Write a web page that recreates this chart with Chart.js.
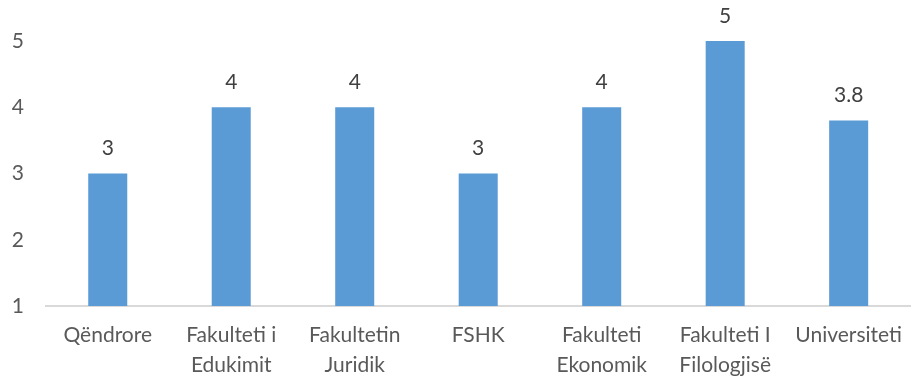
<!DOCTYPE html>
<html>
<head>
<meta charset="utf-8">
<script src="https://cdn.jsdelivr.net/npm/chart.js@4"></script>
<style>
  html, body { margin: 0; padding: 0; background: #fff; }
  #wrap { width: 916px; height: 378px; }
</style>
</head>
<body>
<div id="wrap"><canvas id="barChart"></canvas></div>
<script>
const categories = [
    'Qëndrore',
    ['Fakulteti i', 'Edukimit'],
    ['Fakultetin', 'Juridik'],
    'FSHK',
    ['Fakulteti', 'Ekonomik'],
    ['Fakulteti I', 'Filologjisë'],
    'Universiteti'
];
const values = [3, 4, 4, 3, 4, 5, 3.8];
const yTicks = [1, 2, 3, 4, 5];

const FONT = 'Lato, "Open Sans", sans-serif';

// value labels above each bar
const valueLabels = {
    id: 'valueLabels',
    afterDatasetsDraw(chart) {
        const c = chart.ctx;
        const meta = chart.getDatasetMeta(0);
        c.save();
        c.font = '21px ' + FONT;
        c.fillStyle = '#404040';
        c.textAlign = 'center';
        c.textBaseline = 'middle';
        meta.data.forEach((bar, i) => {
            c.fillText(String(values[i]), bar.x, bar.y - 25);
        });
        c.restore();
    }
};

const ctx = document.getElementById('barChart').getContext('2d');
const barChart = new Chart(ctx, {
    type: 'bar',
    data: {
        labels: categories,
        datasets: [{
            data: values,
            backgroundColor: '#5b9bd5',
            borderWidth: 0,
            categoryPercentage: 1,
            barPercentage: 0.316
        }]
    },
    plugins: [valueLabels],
    options: {
        responsive: true,
        maintainAspectRatio: false,
        animation: false,
        layout: { padding: { top: 41, right: 0, bottom: 0, left: 0 } },
        plugins: {
            legend: { display: false },
            tooltip: { enabled: false }
        },
        scales: {
            x: {
                afterFit: s => { s.height = 72; },
                grid: { display: false, drawTicks: false },
                border: { display: true, color: '#d9d9d9', width: 2 },
                ticks: {
                    color: '#595959',
                    font: { size: 21, family: FONT, lineHeight: 1.45 },
                    padding: 14,
                    maxRotation: 0,
                    autoSkip: false
                }
            },
            y: {
                min: yTicks[0],
                max: yTicks[yTicks.length - 1],
                afterBuildTicks: s => { s.ticks = yTicks.map(v => ({ value: v })); },
                afterFit: s => { s.width = 46; },
                grid: { display: false, drawTicks: false },
                border: { display: false },
                ticks: {
                    color: '#595959',
                    font: { size: 21, family: FONT },
                    padding: 22
                }
            }
        }
    }
});
</script>
</body>
</html>
